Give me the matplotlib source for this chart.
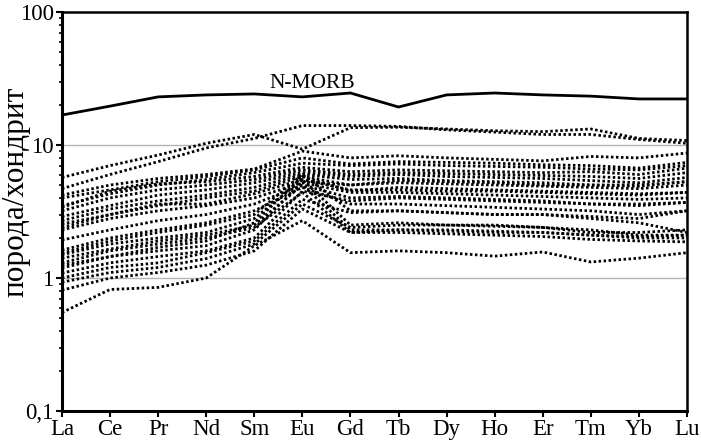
import numpy as np
import matplotlib
matplotlib.use("Agg")
from matplotlib import pyplot as plt
from matplotlib.ticker import FixedLocator, LogLocator, NullFormatter

plt.rcParams['font.family'] = ['Liberation Serif', 'DejaVu Serif']

# Элементы (РЗЭ) и нормированные на хондрит значения
elements = ["La", "Ce", "Pr", "Nd", "Sm", "Eu", "Gd", "Tb", "Dy", "Ho", "Er", "Tm", "Yb", "Lu"]

n_morb = [16.8, 19.6, 23.0, 23.8, 24.2, 23.0, 24.6, 19.3, 23.8, 24.6, 23.8, 23.3, 22.2, 22.2]

samples = [
    [5.7, 7.0, 8.4, 10.3, 12.0, 9.3, 13.5, 13.6, 13.2, 12.8, 12.6, 13.2, 11.2, 10.8],
    [4.7, 6.0, 7.5, 9.5, 11.2, 14.0, 14.0, 13.8, 13.0, 12.5, 12.0, 12.0, 11.0, 10.3],
    [4.2, 5.0, 5.6, 6.0, 6.6, 9.0, 8.0, 8.3, 8.0, 7.8, 7.6, 8.2, 8.0, 8.7],
    [4.0, 4.6, 5.3, 5.8, 6.5, 8.0, 7.2, 7.5, 7.4, 7.3, 7.1, 7.0, 6.7, 7.4],
    [3.5, 4.3, 5.0, 5.5, 6.2, 7.3, 7.0, 7.2, 7.0, 6.9, 6.8, 6.6, 6.5, 7.0],
    [3.4, 4.5, 5.1, 5.3, 5.8, 6.8, 6.3, 6.5, 6.4, 6.3, 6.2, 6.3, 6.0, 6.7],
    [3.2, 4.0, 4.6, 5.0, 5.5, 6.5, 6.0, 6.2, 6.1, 6.0, 5.9, 5.8, 5.6, 6.2],
    [2.9, 3.5, 4.2, 4.6, 5.2, 6.2, 5.8, 6.0, 5.8, 5.7, 5.6, 5.4, 5.2, 5.7],
    [2.7, 3.3, 3.8, 4.2, 4.8, 6.0, 5.5, 5.6, 5.4, 5.3, 5.2, 5.0, 5.0, 5.3],
    [2.55, 3.0, 3.5, 4.0, 4.5, 5.8, 5.0, 5.2, 5.1, 5.0, 4.9, 4.8, 4.7, 5.0],
    [2.4, 3.0, 3.6, 3.6, 4.3, 5.5, 4.6, 4.6, 4.5, 4.5, 4.4, 4.3, 4.2, 4.4],
    [2.3, 2.8, 3.2, 3.5, 4.0, 5.2, 4.4, 4.4, 4.3, 4.2, 4.1, 4.0, 3.9, 4.0],
    [1.93, 2.3, 2.7, 3.0, 3.6, 5.0, 4.0, 4.1, 4.0, 3.9, 3.8, 3.6, 3.5, 3.7],
    [1.62, 2.0, 2.3, 2.6, 3.2, 4.8, 3.6, 3.6, 3.5, 3.4, 3.3, 3.2, 3.0, 3.2],
    [1.54, 1.9, 2.2, 2.5, 3.0, 6.0, 3.2, 3.2, 3.1, 3.0, 3.0, 2.8, 2.6, 2.2],
    [1.5, 1.8, 2.0, 2.2, 2.8, 5.5, 2.5, 2.6, 2.5, 2.5, 2.4, 2.3, 2.1, 2.1],
    [1.41, 1.65, 1.9, 2.1, 2.5, 5.0, 2.3, 2.3, 2.25, 2.2, 2.2, 2.1, 2.0, 2.0],
    [1.3, 1.6, 1.8, 2.0, 2.4, 4.4, 2.2, 2.2, 2.15, 2.1, 2.05, 1.95, 1.9, 1.87],
    [1.25, 1.45, 1.7, 1.9, 2.6, 5.8, 4.5, 4.8, 4.7, 4.6, 4.5, 4.4, 4.3, 4.4],
    [1.19, 1.45, 1.6, 1.75, 2.3, 5.3, 5.0, 5.4, 5.3, 5.2, 5.0, 5.0, 4.9, 5.3],
    [1.09, 1.3, 1.45, 1.6, 2.0, 4.5, 3.8, 4.0, 3.9, 3.8, 3.7, 3.6, 3.6, 3.7],
    [1.0, 1.2, 1.3, 1.55, 1.9, 3.9, 3.1, 3.2, 3.1, 3.0, 3.0, 2.9, 2.8, 3.2],
    [0.93, 1.1, 1.2, 1.4, 1.8, 3.6, 2.4, 2.5, 2.5, 2.45, 2.4, 2.2, 2.2, 2.3],
    [0.81, 1.0, 1.1, 1.25, 1.6, 3.3, 2.2, 2.3, 2.3, 2.25, 2.2, 2.1, 2.05, 2.1],
    [0.55, 0.82, 0.85, 1.0, 1.75, 2.7, 1.55, 1.6, 1.55, 1.46, 1.57, 1.32, 1.41, 1.55],
]

y_ticks = [0.1, 1, 10, 100]
y_labels = ["0,1", "1", "10", "100"]

fig = plt.figure(figsize=(7.01, 4.41), dpi=100)
ax = fig.add_axes([0.0884, 0.068, 0.8916, 0.9048])

x = np.arange(len(elements))

# Образцы - пунктир
for s in samples:
    ax.plot(x, s, color="black", lw=2.0, linestyle=(0, (0.9, 0.9)), dash_capstyle="butt")

# N-MORB - сплошная линия
ax.plot(x, n_morb, color="black", lw=2.0, solid_joinstyle="round")
ax.text(5.2, 29, "N-MORB", fontsize=15.5, ha="center", va="center")

ax.set_yscale("log")
ax.set_ylim(0.1, 100)
ax.set_xlim(0, len(elements) - 1)

ax.yaxis.set_major_locator(FixedLocator(y_ticks))
ax.set_yticklabels(y_labels)
ax.yaxis.set_minor_locator(LogLocator(base=10, subs=np.arange(2, 10)))
ax.yaxis.set_minor_formatter(NullFormatter())

ax.set_xticks(x)
ax.set_xticklabels(elements)

for yv in [1, 10]:
    ax.axhline(yv, color="#b4b4b4", lw=1.0, zorder=0)

ax.tick_params(axis="both", which="major", direction="out", length=4, width=1.5,
               labelsize=16.5, pad=2)
ax.tick_params(axis="y", which="minor", direction="out", length=2.5, width=1.2)

for side in ["left", "bottom"]:
    ax.spines[side].set_linewidth(2.2)
for side in ["top", "right"]:
    ax.spines[side].set_linewidth(1.8)

ax.set_ylabel("порода/хондрит", fontsize=22.5)
ax.yaxis.set_label_coords(-0.05, 0.55)

fig.savefig("out.png", dpi=100)
